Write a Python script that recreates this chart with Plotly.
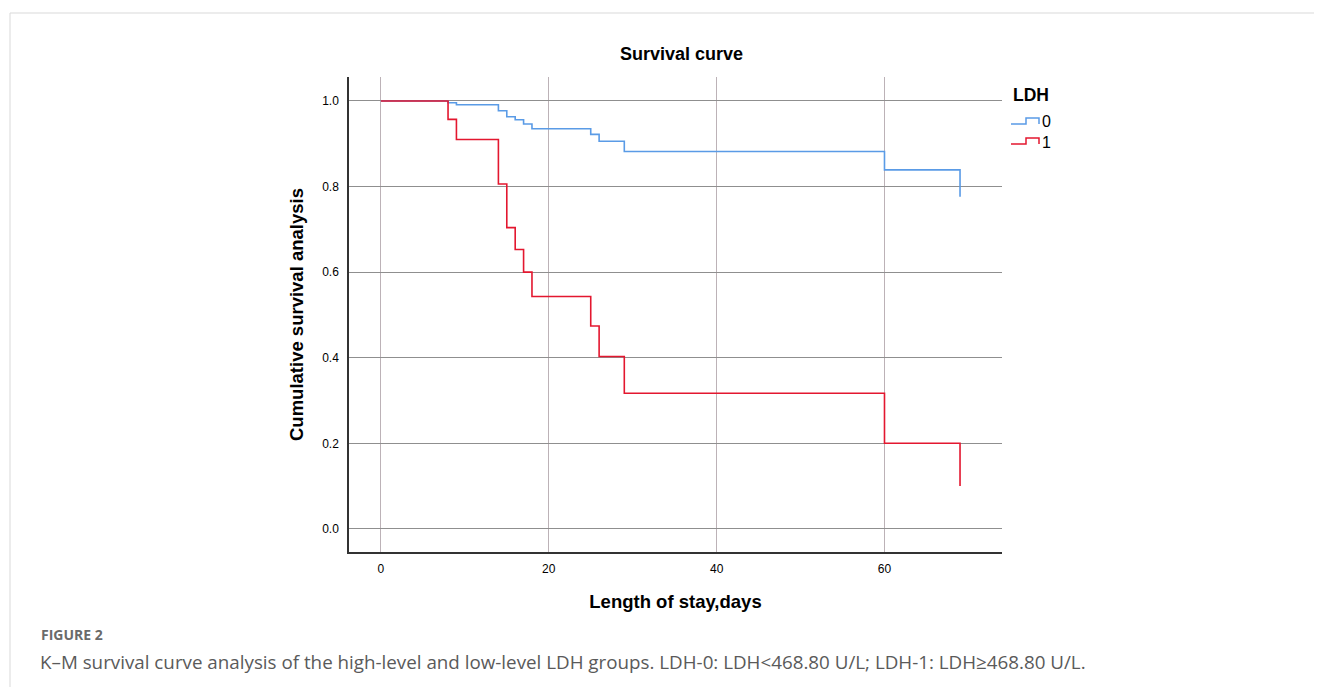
import plotly.graph_objects as go

# Data
times_ldh0 = [0, 8, 9, 14, 15, 16, 17, 18, 25, 26, 29, 60, 69]
surv_ldh0 = [1.0, 0.996, 0.991, 0.977, 0.963, 0.956, 0.946, 0.935, 0.922, 0.906, 0.882, 0.839, 0.776]
times_ldh1 = [0, 8, 9, 14, 15, 16, 17, 18, 25, 26, 29, 60, 69]
surv_ldh1 = [1.0, 0.957, 0.910, 0.806, 0.704, 0.653, 0.600, 0.543, 0.474, 0.403, 0.317, 0.200, 0.100]
x_ticks = [0, 20, 40, 60]
y_ticks = [0.0, 0.2, 0.4, 0.6, 0.8, 1.0]
groups = ["0", "1"]
colors = ["#5a9be6", "#e3172f"]

OFF = 8  # browser body margin
W, H = 1322 - 2 * OFF, 695 - 2 * OFF
# plot area in page pixels
L, R, T, B = 349, 1002, 77, 552

pw, ph = R - L, B - T
def px(xp):
    return (xp - L) / pw
def py(yp):
    return (B - yp) / ph

fig = go.Figure()
fig.add_trace(go.Scatter(x=times_ldh0, y=surv_ldh0, mode="lines", name=groups[0],
                         line=dict(color=colors[0], width=1.6, shape="hv")))
fig.add_trace(go.Scatter(x=times_ldh1, y=surv_ldh1, mode="lines", name=groups[1],
                         line=dict(color=colors[1], width=1.6, shape="hv")))

fig.update_layout(
    width=W, height=H,
    margin=dict(l=L - OFF, r=W - (R - OFF), t=T - OFF, b=H - (B - OFF), pad=0),
    paper_bgcolor="white", plot_bgcolor="white",
    font=dict(family="Liberation Sans, Arial, sans-serif", color="#000"),
    showlegend=False,
    xaxis=dict(
        range=[-3.8, 74], tickvals=x_ticks, ticktext=[str(v) for v in x_ticks],
        showgrid=True, gridcolor="#bcb2b7", gridwidth=1, zeroline=False,
        showline=True, linecolor="#333", linewidth=1.5, ticks="",
        tickfont=dict(size=12), ticklabelstandoff=5,
        title=dict(text="<b>Length of stay,days</b>", font=dict(size=18.5), standoff=20),
    ),
    yaxis=dict(
        range=[-0.054, 1.056], tickvals=y_ticks, ticktext=[f"{v:.1f}" for v in y_ticks],
        showgrid=True, gridcolor="#8f8f8f", gridwidth=1, zeroline=False,
        showline=True, linecolor="#333", linewidth=1.5, ticks="",
        tickfont=dict(size=12), ticklabelstandoff=6,
        title=dict(text="<b>Cumulative survival analysis</b>", font=dict(size=18.5), standoff=14),
    ),
)

# Chart title
fig.add_annotation(text="<b>Survival curve</b>", x=px(681), y=py(54),
                   xref="paper", yref="paper", showarrow=False,
                   font=dict(size=18), xanchor="center", yanchor="middle")

# Custom legend with step-shaped icons
fig.add_annotation(text="<b>LDH</b>", x=px(1011), y=py(95), xref="paper", yref="paper",
                   showarrow=False, xanchor="left", yanchor="middle", font=dict(size=17.5))
for i, (g, c) in enumerate(zip(groups, colors)):
    yb = 128 + 20 * i  # baseline of the item
    x0, xm, x1 = 1011, 1026, 1039
    ylo, yhi = yb - 4, yb - 10
    path = (f"M {px(x0)} {py(ylo)} L {px(xm)} {py(ylo)} L {px(xm)} {py(yhi)} "
            f"L {px(x1)} {py(yhi)} L {px(x1)} {py(ylo)}")
    fig.add_shape(type="path", xref="paper", yref="paper", path=path,
                  line=dict(color=c, width=1.5))
    fig.add_annotation(text=g, x=px(1040), y=py(yb - 6), xref="paper", yref="paper",
                       showarrow=False, xanchor="left", yanchor="middle", font=dict(size=16))

# Figure caption
fig.add_annotation(text="<b>FIGURE 2</b>", x=px(39), y=py(634), xref="paper", yref="paper",
                   showarrow=False, xanchor="left", yanchor="middle",
                   font=dict(size=14, family="Open Sans", color="#6a6a6a"))
fig.add_annotation(text="K–M survival curve analysis of the high-level and low-level LDH groups. LDH-0: LDH<468.80 U/L; LDH-1: LDH≥468.80 U/L.",
                   x=px(38), y=py(662), xref="paper", yref="paper",
                   showarrow=False, xanchor="left", yanchor="middle",
                   font=dict(size=18.8, family="Open Sans", color="#5a5a5a"))

# Page frame lines
fig.add_shape(type="line", xref="paper", yref="paper", x0=px(10), x1=px(1322), y0=py(13), y1=py(13),
              line=dict(color="#d9d9d9", width=1))
fig.add_shape(type="line", xref="paper", yref="paper", x0=px(10), x1=px(10), y0=py(13), y1=py(700),
              line=dict(color="#d9d9d9", width=1))

fig.write_html("out.html")
